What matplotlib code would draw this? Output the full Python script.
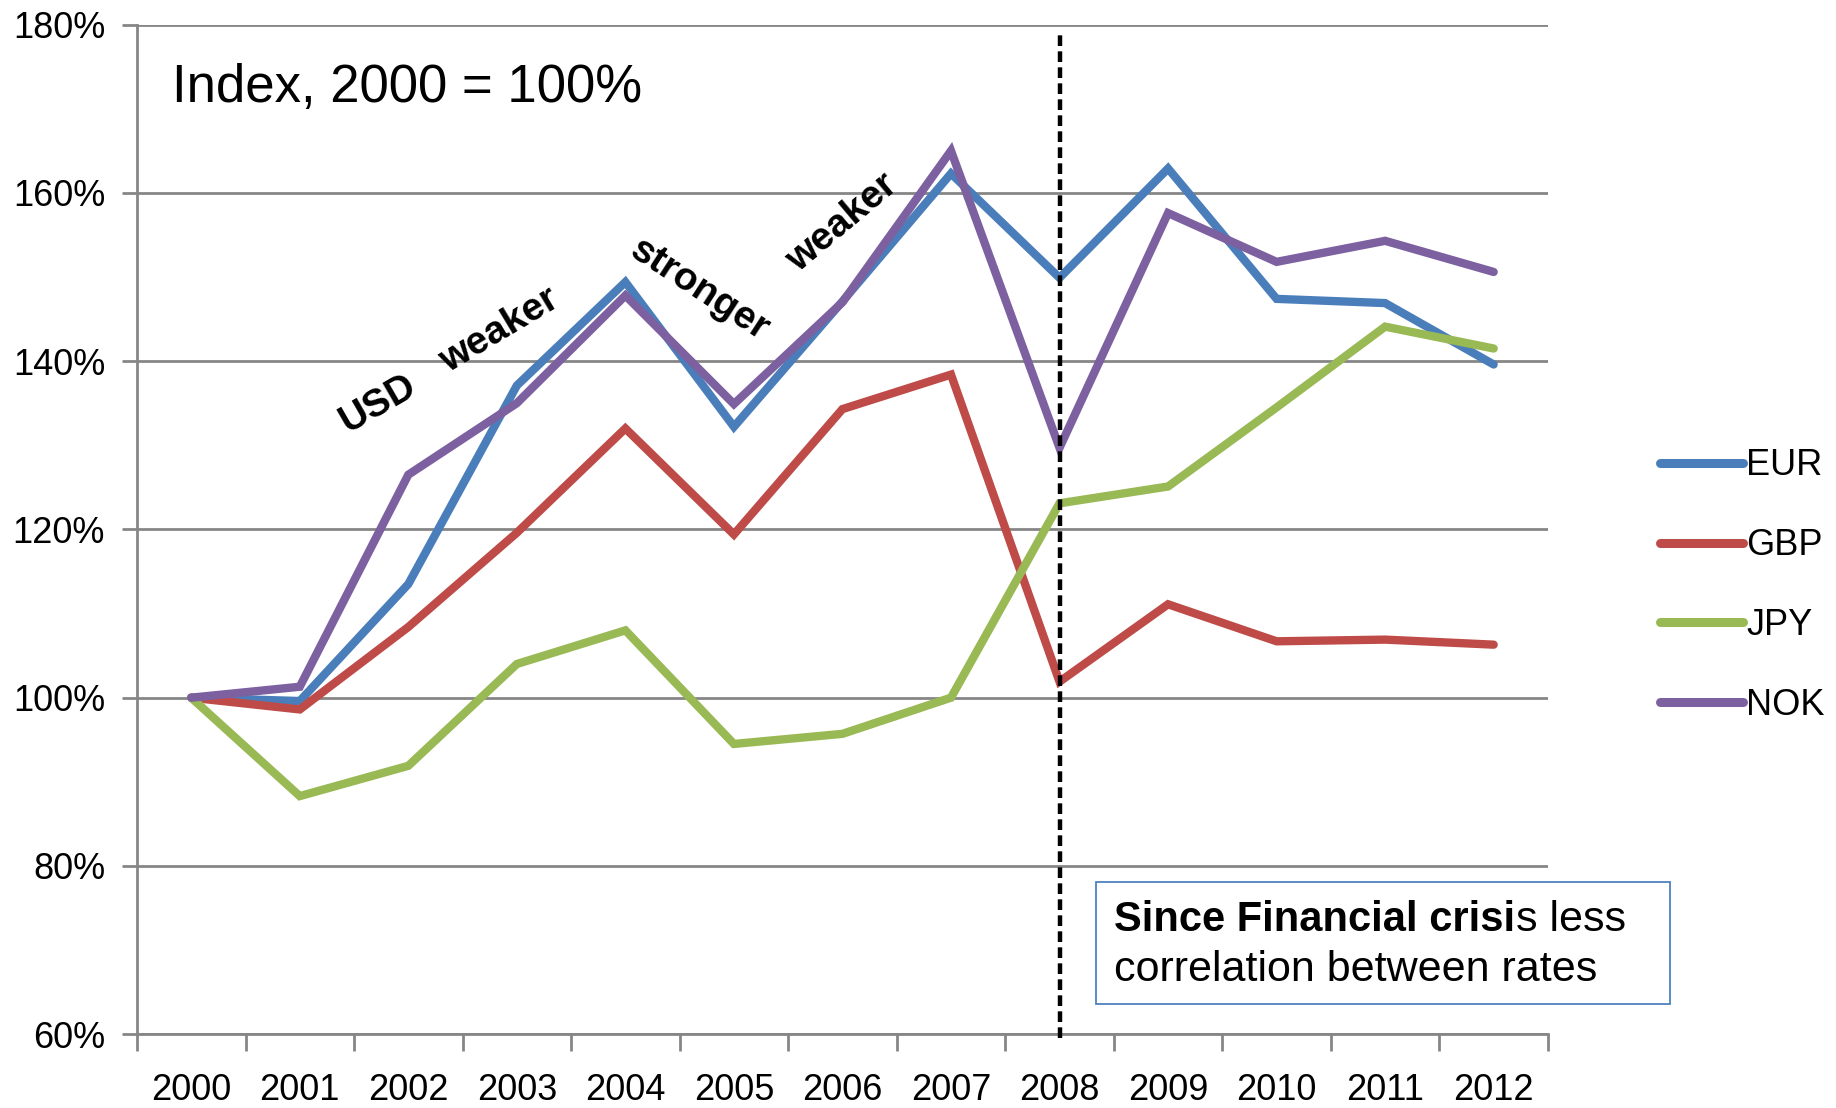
import matplotlib
matplotlib.use("Agg")
import matplotlib.pyplot as plt
from matplotlib.patches import Rectangle
import numpy as np

plt.rcParams['font.family'] = ['Liberation Sans', 'DejaVu Sans']

years = ["2000", "2001", "2002", "2003", "2004", "2005", "2006",
         "2007", "2008", "2009", "2010", "2011", "2012"]
eur = [100, 99.6, 113.5, 137.1, 149.4, 132.2, 147.1, 162.3, 149.9, 162.9, 147.4, 146.9, 139.6]
gbp = [100, 98.6, 108.4, 119.6, 132.0, 119.4, 134.3, 138.4, 101.9, 111.1, 106.7, 106.9, 106.3]
jpy = [100, 88.3, 91.9, 104.0, 108.0, 94.5, 95.7, 100.0, 123.1, 125.1, 134.5, 144.1, 141.5]
nok = [100, 101.3, 126.5, 135.0, 147.8, 134.9, 147.0, 165.0, 129.7, 157.6, 151.8, 154.3, 150.6]
series_names = ["EUR", "GBP", "JPY", "NOK"]
series_colors = ["#4A7EBB", "#BE4B48", "#98B954", "#7D60A0"]
y_ticks = [60, 80, 100, 120, 140, 160, 180]
crisis_year = "2008"

fig = plt.figure(figsize=(18.36, 11.08), dpi=100)
ax = fig.add_axes([0.0746, 0.0666, 0.7685, 0.9112])

x = np.arange(len(years))
grid_c = "#868686"
for name, vals, col in zip(series_names, [eur, gbp, jpy, nok], series_colors):
    ax.plot(x, vals, color=col, lw=6.0, label=name, solid_joinstyle='miter',
            solid_capstyle='round', zorder=3)

ax.set_xlim(-0.5, len(years) - 0.5)
ax.set_ylim(60, 180)
ax.set_yticks(y_ticks)
ax.set_yticklabels([f"{v}%" for v in y_ticks])
ax.yaxis.grid(True, color=grid_c, lw=2.0)
ax.set_axisbelow(True)

# category boundaries carry the tick marks; labels sit at category centres
ax.set_xticks(np.arange(len(years) + 1) - 0.5)
ax.set_xticklabels([])
ax.set_xticks(x, minor=True)
ax.set_xticklabels(years, minor=True)
ax.tick_params(axis='x', which='major', length=12, width=2, color=grid_c, direction='out')
ax.tick_params(axis='x', which='minor', length=0, pad=28, labelsize=26)
ax.tick_params(axis='y', length=11, width=2, color=grid_c, direction='out', pad=12, labelsize=26)

for s in ['top', 'right']:
    ax.spines[s].set_visible(False)
for s in ['left', 'bottom']:
    ax.spines[s].set_color(grid_c)
    ax.spines[s].set_linewidth(2.0)

# crisis marker
xi = years.index(crisis_year)
ax.plot([xi, xi], [59.5, 179], color="black", lw=3.2, ls=(0, (2.4, 1.2)),
        clip_on=False, zorder=4)

leg = ax.legend(loc='center left', bbox_to_anchor=(0.904, 0.4715),
                bbox_transform=fig.transFigure, frameon=False, fontsize=26,
                handlelength=2.3, handletextpad=0.1, labelspacing=1.24,
                borderpad=0, borderaxespad=0)
for h in leg.get_lines():
    h.set_linewidth(6.5)
    h.set_solid_capstyle('round')

fig.text(0.0938, 0.9207, "Index, 2000 = 100%", fontsize=38, ha='left', va='center')

bold_kw = dict(fontsize=28, fontweight='bold', ha='center', va='center')
fig.text(0.206, 0.636, "USD", rotation=30, **bold_kw)
fig.text(0.272, 0.702, "weaker", rotation=31, **bold_kw)
fig.text(0.381, 0.738, "stronger", rotation=-33, **bold_kw)
fig.text(0.4585, 0.799, "weaker", rotation=40, **bold_kw)

# note box
fig.patches.append(Rectangle((0.597, 0.0941), 0.3124, 0.1099, transform=fig.transFigure,
                             fill=False, edgecolor="#4F81BD", lw=1.3))
t1 = fig.text(0.607, 0.170, "Since Financial crisi", fontsize=30, fontweight='bold',
              ha='left', va='center')
renderer = fig.canvas.get_renderer()
bb = t1.get_window_extent(renderer=renderer)
x_end = bb.x1 / fig.bbox.width
fig.text(x_end, 0.170, "s less", fontsize=31, ha='left', va='center')
fig.text(0.607, 0.1247, "correlation between rates", fontsize=31, ha='left', va='center')

fig.savefig("out.png", dpi=100)
